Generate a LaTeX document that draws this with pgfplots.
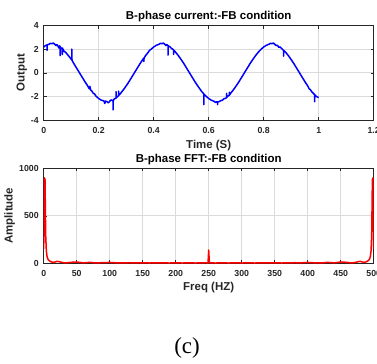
\documentclass[border=0pt]{standalone}
\usepackage{fontspec}
\setmainfont{Liberation Sans}
\newfontfamily\capserif{Liberation Serif}
\usepackage{pgfplots}
\pgfplotsset{compat=1.18}
\definecolor{axgray}{gray}{0.15}
\definecolor{gridgray}{gray}{0.86}
\pgfplotsset{mstyle/.style={
  scale only axis, width=330bp, height=94.5bp,
  axis line style={axgray, line width=0.6pt},
  tick style={axgray, line width=0.5pt}, tick align=inside, major tick length=3bp,
  grid=major, major grid style={gridgray, line width=0.6pt},
  ticklabel style={font=\bfseries\fontsize{8.8}{9}\selectfont, text=axgray},
  xticklabel style={yshift=-3.5bp},
  yticklabel style={xshift=-1.5bp},
  label style={font=\bfseries\fontsize{11.5}{12}\selectfont, text=axgray},
  every axis title/.style={at={(axis description cs:0.5,1.095)}, anchor=center,
     font=\bfseries\fontsize{11.5}{12}\selectfont, text=black},
  /pgf/number format/assume math mode=true,
  /pgf/number format/1000 sep={},
  scaled ticks=false,
}}
\begin{document}
\begin{tikzpicture}[x=1bp,y=1bp]
\path[use as bounding box] (0,0) rectangle (377,364);
\begin{axis}[mstyle, at={(43.7bp,244bp)}, anchor=south west,
  xmin=0, xmax=1.2, ymin=-4, ymax=4,
  xtick={0,0.2,0.4,0.6,0.8,1,1.2}, ytick={-4,-2,0,2,4},
  title={B-phase current:-FB condition},
  xlabel={Time (S)},
  xlabel style={at={(axis description cs:0.5,-0.265)}, anchor=center},
  ylabel={Output},
  ylabel style={at={(axis description cs:-0.066,0.5)}, anchor=center},
]
\addplot[blue, line width=1.5pt, line join=round] coordinates {
(0.000,2.18)(0.005,2.28)(0.010,2.33)(0.012,2.36)(0.012,1.90)(0.013,2.36)(0.020,2.42)(0.025,2.50)(0.030,2.45)(0.035,2.52)(0.040,2.42)(0.045,2.30)(0.048,2.38)(0.050,2.33)(0.055,2.10)(0.058,2.28)(0.060,2.18)(0.060,1.45)(0.061,2.16)(0.065,2.05)(0.068,2.10)(0.068,1.55)(0.069,2.05)(0.070,1.98)(0.075,1.80)(0.080,1.73)(0.085,1.58)(0.090,1.44)(0.095,1.30)(0.102,1.08)(0.102,2.00)(0.103,1.05)(0.110,0.76)(0.120,0.38)(0.130,0.00)(0.140,-0.38)(0.150,-0.76)(0.160,-1.11)(0.165,-1.35)(0.168,-1.15)(0.170,-1.44)(0.175,-1.55)(0.180,-1.73)(0.185,-1.80)(0.190,-1.98)(0.200,-2.18)(0.210,-2.33)(0.215,-2.35)(0.220,-2.42)(0.222,-2.60)(0.225,-2.40)(0.230,-2.45)(0.235,-2.55)(0.240,-2.42)(0.245,-2.30)(0.250,-2.33)(0.252,-2.40)(0.252,-3.15)(0.253,-2.35)(0.257,-2.20)(0.260,-2.18)(0.263,-2.15)(0.263,-1.60)(0.264,-2.12)(0.270,-1.98)(0.272,-1.95)(0.272,-1.55)(0.273,-1.92)(0.280,-1.73)(0.290,-1.44)(0.300,-1.11)(0.310,-0.76)(0.320,-0.38)(0.330,0.00)(0.340,0.38)(0.350,0.76)(0.360,1.11)(0.364,1.25)(0.364,0.95)(0.365,1.22)(0.370,1.44)(0.380,1.73)(0.385,1.90)(0.390,1.98)(0.400,2.18)(0.410,2.33)(0.420,2.42)(0.425,2.50)(0.430,2.45)(0.435,2.52)(0.440,2.42)(0.445,2.30)(0.448,2.38)(0.450,2.33)(0.452,2.30)(0.452,1.50)(0.453,2.28)(0.460,2.18)(0.465,2.05)(0.470,1.98)(0.472,1.95)(0.472,1.55)(0.473,1.92)(0.480,1.73)(0.490,1.44)(0.500,1.11)(0.510,0.76)(0.520,0.38)(0.530,0.00)(0.540,-0.38)(0.550,-0.76)(0.560,-1.11)(0.570,-1.44)(0.575,-1.60)(0.580,-1.73)(0.582,-1.80)(0.582,-2.70)(0.583,-1.82)(0.590,-1.98)(0.600,-2.18)(0.610,-2.33)(0.620,-2.42)(0.625,-2.52)(0.630,-2.45)(0.632,-2.50)(0.632,-2.70)(0.633,-2.48)(0.640,-2.42)(0.645,-2.35)(0.650,-2.33)(0.655,-2.20)(0.660,-2.18)(0.665,-2.10)(0.665,-1.75)(0.666,-2.08)(0.670,-1.98)(0.675,-1.90)(0.675,-1.65)(0.676,-1.88)(0.680,-1.73)(0.690,-1.44)(0.700,-1.11)(0.710,-0.76)(0.720,-0.38)(0.730,0.00)(0.740,0.38)(0.750,0.76)(0.760,1.11)(0.770,1.44)(0.780,1.73)(0.790,1.98)(0.800,2.18)(0.810,2.33)(0.820,2.42)(0.825,2.50)(0.830,2.45)(0.835,2.52)(0.840,2.42)(0.845,2.30)(0.850,2.33)(0.855,2.15)(0.860,2.18)(0.865,2.05)(0.872,1.90)(0.872,1.40)(0.873,1.88)(0.880,1.73)(0.890,1.44)(0.900,1.11)(0.910,0.76)(0.920,0.38)(0.930,0.00)(0.940,-0.38)(0.950,-0.76)(0.960,-1.11)(0.965,-1.35)(0.970,-1.44)(0.975,-1.62)(0.980,-1.73)(0.985,-1.85)(0.985,-2.45)(0.986,-1.87)(0.990,-1.98)(0.995,-2.05)(1.000,-2.10)
};
\end{axis}
\begin{axis}[mstyle, at={(43.7bp,100.7bp)}, anchor=south west, height=95bp,
  xmin=0, xmax=500, ymin=0, ymax=1000,
  xtick={0,50,...,500}, ytick={0,500,1000},
  title={B-phase FFT:-FB condition},
  xlabel={Freq (HZ)},
  xlabel style={at={(axis description cs:0.5,-0.25)}, anchor=center},
  ylabel={Amplitude},
  ylabel style={at={(axis description cs:-0.103,0.5)}, anchor=center},
]
\addplot[red, line width=1.5pt, line join=round] coordinates {
(0,150)(1,900)(2,880)(3,300)(4,130)(5,75)(6,50)(7,38)(8,30)(10,20)(12,14)(15,10)(18,15)(20,20)(23,18)(26,12)(30,6)(35,5)(40,9)(45,12)(50,14)(55,9)(60,5)(65,7)(70,10)(75,6)(80,4)(90,7)(100,9)(110,5)(120,4)(130,6)(140,4)(150,5)(160,3)(170,5)(180,4)(190,3)(200,4)(210,3)(220,4)(230,3)(240,4)(249,4)(250,140)(251,4)(260,3)(270,4)(280,3)(290,4)(300,3)(310,4)(320,3)(330,5)(340,4)(350,5)(360,3)(370,4)(380,6)(390,5)(400,9)(410,5)(420,4)(425,6)(430,10)(435,7)(440,5)(445,9)(450,14)(455,12)(460,9)(465,5)(470,6)(474,12)(477,18)(480,20)(482,15)(485,10)(488,14)(490,20)(492,30)(493,38)(494,50)(495,75)(496,130)(497,300)(498,880)(499,900)(500,150)
};
\end{axis}
\node[font=\capserif\fontsize{23}{24}\selectfont] at (187,16) {(c)};
\end{tikzpicture}
\end{document}
